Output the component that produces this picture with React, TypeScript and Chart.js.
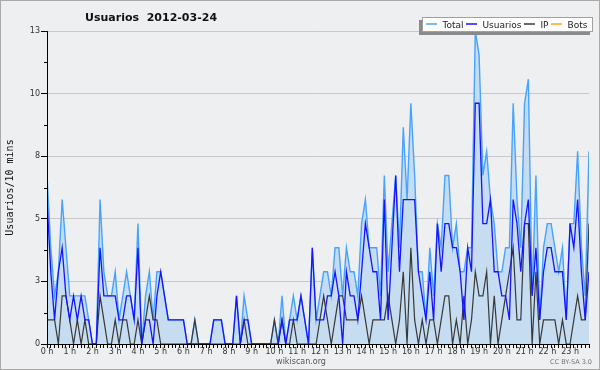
import React, { useEffect, useRef } from 'react';
import { Chart, registerables } from 'chart.js';

Chart.register(...registerables);

// Hour tick labels (one every 6 ten-minute slots)
const hourLabels = [
  '0 h', '1 h', '2 h', '3 h', '4 h', '5 h', '6 h', '7 h', '8 h', '9 h', '10 h', '11 h',
  '12 h', '13 h', '14 h', '15 h', '16 h', '17 h', '18 h', '19 h', '20 h', '21 h', '22 h', '23 h',
];

// Values per 10-minute slot (144 slots)
const total = [
  7, 4, 2, 3, 6, 4, 2, 2, 2, 2, 2, 1,
  0, 0, 6, 3, 2, 2, 3, 1, 2, 3, 2, 1,
  5, 0, 2, 3, 1, 3, 3, 2, 1, 1, 1, 1,
  1, 0, 0, 1, 0, 0, 0, 0, 1, 1, 1, 0,
  0, 0, 2, 0, 2, 1, 0, 0, 0, 0, 0, 0,
  1, 0, 2, 0, 1, 2, 1, 2, 1, 0, 4, 1,
  2, 3, 3, 2, 4, 4, 2, 4, 3, 3, 2, 5,
  6, 4, 4, 4, 2, 7, 3, 5, 7, 4, 9, 6,
  10, 7, 3, 3, 1, 4, 2, 5, 4, 7, 7, 4,
  5, 3, 3, 4, 4, 13, 12, 7, 8, 6, 5, 3,
  3, 4, 4, 10, 6, 4, 10, 11, 2, 7, 1, 4,
  5, 5, 4, 3, 4, 1, 5, 5, 8, 4, 2, 8,
];

const usuarios = [
  6, 3, 1, 3, 4, 2, 1, 2, 1, 2, 1, 1,
  0, 0, 4, 2, 2, 2, 2, 1, 1, 2, 2, 1,
  4, 0, 1, 1, 0, 2, 3, 2, 1, 1, 1, 1,
  1, 0, 0, 0, 0, 0, 0, 0, 1, 1, 1, 0,
  0, 0, 2, 0, 1, 1, 0, 0, 0, 0, 0, 0,
  0, 0, 1, 0, 1, 1, 1, 2, 1, 0, 4, 1,
  1, 1, 2, 2, 3, 2, 0, 3, 2, 2, 1, 3,
  5, 4, 3, 3, 1, 6, 1, 4, 7, 3, 6, 6,
  6, 6, 3, 2, 1, 3, 1, 5, 3, 5, 5, 4,
  4, 3, 1, 4, 3, 10, 10, 5, 5, 6, 3, 3,
  2, 2, 1, 6, 5, 3, 5, 6, 2, 4, 1, 3,
  4, 4, 3, 3, 3, 1, 5, 4, 6, 3, 1, 3,
];

const ip = [
  1, 1, 1, 0, 2, 2, 1, 0, 1, 0, 1, 0,
  0, 0, 2, 1, 0, 0, 1, 0, 1, 1, 0, 0,
  1, 0, 1, 2, 1, 1, 0, 0, 0, 0, 0, 0,
  0, 0, 0, 1, 0, 0, 0, 0, 0, 0, 0, 0,
  0, 0, 0, 0, 1, 0, 0, 0, 0, 0, 0, 0,
  1, 0, 1, 0, 0, 1, 0, 0, 0, 0, 0, 0,
  1, 2, 1, 0, 1, 2, 2, 1, 1, 1, 1, 2,
  1, 0, 1, 1, 1, 1, 2, 1, 0, 1, 3, 0,
  4, 1, 0, 1, 0, 1, 1, 0, 1, 2, 2, 0,
  1, 0, 2, 0, 1, 3, 2, 2, 3, 0, 2, 0,
  1, 2, 3, 4, 1, 1, 5, 5, 0, 3, 0, 1,
  1, 1, 1, 0, 1, 0, 0, 1, 2, 1, 1, 5,
];

const bots = [
  0, 0, 0, 0, 0, 0, 0, 0, 0, 0, 0, 0,
  0, 0, 0, 0, 0, 0, 0, 0, 0, 0, 0, 0,
  0, 0, 0, 0, 0, 0, 0, 0, 0, 0, 0, 0,
  0, 0, 0, 0, 0, 0, 0, 0, 0, 0, 0, 0,
  0, 0, 0, 0, 0, 0, 0, 0, 0, 0, 0, 0,
  0, 0, 0, 0, 0, 0, 0, 0, 0, 0, 0, 0,
  0, 0, 0, 0, 0, 0, 0, 0, 0, 0, 0, 0,
  0, 0, 0, 0, 0, 0, 0, 0, 0, 0, 0, 0,
  0, 0, 0, 0, 0, 0, 0, 0, 0, 0, 0, 0,
  0, 0, 0, 0, 0, 0, 0, 0, 0, 0, 0, 0,
  0, 0, 0, 0, 0, 0, 0, 0, 0, 0, 0, 0,
  0, 0, 0, 0, 0, 0, 0, 0, 0, 0, 0, 0,
];

// Y axis ticks (labels shown rounded)
const yMajorTicks = [0, 2.6, 5.2, 7.8, 10.4, 13];
const yMinorTicks = [1.3, 3.9, 6.5, 9.1, 11.7];

const titleText = 'Usuarios  2012-03-24';
const yAxisTitle = 'Usuarios/10 mins';
const seriesNames = ['Total', 'Usuarios', 'IP', 'Bots'];
const footerCenter = 'wikiscan.org';
const footerRight = 'CC BY-SA 3.0';

const COLORS = {
  total: '#47a3ff',
  totalFill: '#c6dcf1',
  usuarios: '#1414ff',
  ip: '#383838',
  bots: '#ffa31a',
};
const seriesColors = [COLORS.total, COLORS.usuarios, COLORS.ip, COLORS.bots];

const FONT = '"DejaVu Sans", "Liberation Sans", sans-serif';

const decorPlugin = {
  id: 'decor',
  afterDraw(chart: any) {
    const ctx: CanvasRenderingContext2D = chart.ctx;
    const area = chart.chartArea;
    const yScale = chart.scales.y;
    ctx.save();

    // minor ticks on y axis
    ctx.strokeStyle = '#000';
    ctx.lineWidth = 1;
    yMinorTicks.forEach((v) => {
      const y = Math.round(yScale.getPixelForValue(v)) + 0.5;
      ctx.beginPath();
      ctx.moveTo(area.left - 3, y);
      ctx.lineTo(area.left, y);
      ctx.stroke();
    });

    // title
    ctx.font = `bold 11px ${FONT}`;
    ctx.fillStyle = '#111';
    ctx.textAlign = 'left';
    ctx.textBaseline = 'alphabetic';
    ctx.fillText(titleText, 84, 19.5);

    // legend box with shadow
    const bx = 421, by = 16, bw = 171, bh = 15;
    ctx.fillStyle = '#8a8a8a';
    ctx.fillRect(bx - 3, by + 3, bw, bh);
    ctx.fillStyle = '#ffffff';
    ctx.fillRect(bx, by, bw, bh);
    ctx.strokeStyle = '#a0a0a0';
    ctx.lineWidth = 1;
    ctx.strokeRect(bx + 0.5, by + 0.5, bw - 1, bh - 1);

    ctx.font = `9px ${FONT}`;
    ctx.textBaseline = 'alphabetic';
    let x = 425;
    seriesNames.forEach((name, i) => {
      ctx.strokeStyle = seriesColors[i];
      ctx.lineWidth = 1.5;
      ctx.beginPath();
      ctx.moveTo(x, 23);
      ctx.lineTo(x + 11, 23);
      ctx.stroke();
      ctx.fillStyle = '#222';
      ctx.fillText(name, x + 16.5, 26.5);
      x = x + 16.5 + ctx.measureText(name).width + 2.5;
    });

    // footer texts
    ctx.textBaseline = 'middle';
    ctx.textAlign = 'center';
    ctx.fillStyle = '#555';
    ctx.font = `8px ${FONT}`;
    ctx.fillText(footerCenter, 300, 361);
    ctx.textAlign = 'right';
    ctx.fillStyle = '#777';
    ctx.font = `6.5px ${FONT}`;
    ctx.fillText(footerRight, 591, 361);

    ctx.restore();
  },
};

const toPoints = (arr: number[]) => arr.map((v, i) => ({ x: i, y: v }));

export default function App() {
  const ref = useRef<HTMLCanvasElement>(null);

  useEffect(() => {
    const canvas = ref.current;
    if (!canvas) return;
    Chart.defaults.font.family = FONT;
    const chart = new Chart(canvas, {
      type: 'line',
      data: {
        datasets: [
          {
            label: seriesNames[0],
            data: toPoints(total),
            borderColor: COLORS.total,
            backgroundColor: COLORS.totalFill,
            fill: 'origin',
            borderWidth: 1.4,
            pointRadius: 0,
            tension: 0,
            order: 3,
          },
          {
            label: seriesNames[1],
            data: toPoints(usuarios),
            borderColor: COLORS.usuarios,
            fill: false,
            borderWidth: 1.3,
            pointRadius: 0,
            tension: 0,
            order: 1,
          },
          {
            label: seriesNames[2],
            data: toPoints(ip),
            borderColor: COLORS.ip,
            fill: false,
            borderWidth: 1.2,
            pointRadius: 0,
            tension: 0,
            order: 2,
          },
          {
            label: seriesNames[3],
            data: toPoints(bots),
            borderColor: COLORS.bots,
            fill: false,
            borderWidth: 1,
            pointRadius: 0,
            tension: 0,
            order: 4,
          },
        ],
      },
      options: {
        responsive: false,
        animation: false,
        layout: { padding: { left: 0, right: 10, top: 30, bottom: 0 } },
        plugins: {
          legend: { display: false },
          title: { display: false },
          tooltip: { enabled: false },
        },
        scales: {
          x: {
            type: 'linear',
            min: 0,
            max: total.length - 1,
            afterBuildTicks: (s: any) => {
              s.ticks = total.map((_, i) => ({ value: i }));
            },
            afterFit: (s: any) => {
              s.height = 25;
            },
            grid: {
              display: true,
              drawOnChartArea: false,
              drawTicks: true,
              tickLength: 4,
              tickColor: '#000',
              color: '#000',
            },
            border: { display: true, color: '#000', width: 1, z: 1 },
            ticks: {
              autoSkip: false,
              maxRotation: 0,
              minRotation: 0,
              padding: -1,
              color: '#333',
              font: { size: 8, family: FONT },
              callback: (v: any) => (Number(v) % 6 === 0 ? hourLabels[Number(v) / 6] : ''),
            },
          },
          y: {
            type: 'linear',
            min: 0,
            max: 13,
            afterBuildTicks: (s: any) => {
              s.ticks = yMajorTicks.map((v) => ({ value: v }));
            },
            afterFit: (s: any) => {
              s.width = 46;
            },
            grid: {
              color: '#c9c9c9',
              tickColor: '#000',
              tickLength: 6,
              drawTicks: true,
            },
            border: { display: true, color: '#000', width: 1, z: 1 },
            ticks: {
              padding: 1,
              color: '#333',
              font: { size: 8, family: FONT },
              callback: (v: any) => String(Math.round(Number(v))),
            },
            title: {
              display: true,
              text: yAxisTitle,
              color: '#111',
              font: { family: '"DejaVu Sans Mono", monospace', size: 10 },
              padding: { top: 3, bottom: 0 },
            },
          },
        },
      },
      plugins: [decorPlugin],
    } as any);
    return () => chart.destroy();
  }, []);

  return (
    <div
      style={{
        position: 'fixed',
        left: 0,
        top: 0,
        width: 600,
        height: 370,
        boxSizing: 'border-box',
        border: '1px solid #aaaaaa',
        background: '#eeeff1',
      }}
    >
      <canvas ref={ref} width={598} height={368} style={{ display: 'block', width: 598, height: 368 }} />
    </div>
  );
}
